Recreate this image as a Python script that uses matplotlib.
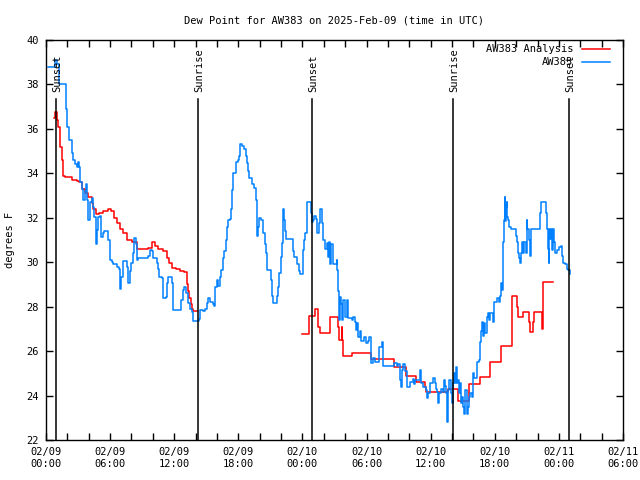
import matplotlib
matplotlib.use("Agg")
import matplotlib.pyplot as plt
import numpy as np

# hours since 2025-02-09 00:00 UTC
blue_h = [0.2, 0.6, 0.85, 1.0, 1.24, 1.8, 1.87, 2.0, 2.18, 2.4, 2.56, 2.71, 2.93, 3.0, 3.1,
          3.18, 3.34, 3.5, 3.65, 3.74, 3.8, 3.96, 4.1, 4.27, 4.43, 4.52, 4.68, 4.8, 4.9, 5.05,
          5.15, 5.3, 5.43, 5.83, 6.0, 6.15, 6.24, 6.67, 6.86, 6.93, 7.0, 7.17, 7.6, 7.7, 7.86,
          7.95, 8.1, 8.27, 8.39, 8.48, 8.64, 9.57, 9.73, 9.9, 9.98, 10.36, 10.5, 10.6, 10.83,
          10.98, 11.23, 11.35, 11.45, 11.75, 11.91, 12.63, 12.79, 12.94, 13.1, 13.32, 13.48,
          13.64, 13.79, 14.32, 14.41, 14.66, 14.88, 15.04, 15.2, 15.35, 15.6, 15.75, 15.85,
          15.97, 16.13, 16.29, 16.38, 16.54, 16.66, 16.85, 16.97, 17.06, 17.22, 17.31, 17.41,
          17.53, 17.78, 18.0, 18.09, 18.16, 18.32, 18.53, 18.72, 18.84, 18.93, 19.03, 19.25,
          19.47, 19.65, 19.72, 19.78, 19.84, 19.96, 20.12, 20.34, 20.5, 20.59, 20.71, 21.06,
          21.15, 21.22, 21.59, 21.74, 21.83, 21.97, 22.06, 22.15, 22.21, 22.28, 22.37, 22.46,
          23.09, 23.21, 23.52, 23.65, 23.77, 24.08, 24.17, 24.27, 24.4, 24.45, 24.77, 24.87,
          25.0, 25.11, 25.27, 25.39, 25.55, 25.67, 25.8, 25.95, 26.11, 26.27, 26.36, 26.49,
          26.58, 26.67, 26.83, 27.2, 27.26, 27.36, 27.45, 27.52, 27.61, 27.7, 27.83, 27.98,
          28.14, 28.23, 28.6, 28.75, 28.92, 29.01, 29.12, 29.23, 29.39, 29.48, 29.8, 29.95,
          30.15, 30.26, 30.39, 30.57, 30.79, 31.16, 31.2, 31.42, 31.51, 31.57, 32.6, 32.82,
          32.95, 33.13, 33.22, 33.29, 33.44, 33.6, 33.76, 34.07, 34.32, 34.4, 34.55, 34.99,
          35.06, 35.31, 35.56, 35.62, 35.77, 35.94, 36.25, 36.41, 36.5, 36.57, 36.72, 36.81,
          36.94, 37.13, 37.25, 37.34, 37.44, 37.5, 37.56, 37.65, 37.75, 37.88, 37.97, 38.06,
          38.18, 38.28, 38.37, 38.45, 38.53, 38.62, 38.72, 38.85, 38.95, 39.05, 39.15, 39.24,
          39.36, 39.45, 39.55, 39.68, 39.85, 39.93, 40.02, 40.3, 40.49, 40.62, 40.71, 40.8,
          40.93, 41.02, 41.11, 41.24, 41.33, 41.43, 41.55, 41.8, 41.9, 42.18, 42.37, 42.49,
          42.55, 42.68, 42.74, 42.8, 42.86, 42.93, 42.99, 43.05, 43.11, 43.17, 43.26, 43.36,
          43.49, 43.98, 44.05, 44.14, 44.24, 44.36, 44.46, 44.55, 44.67, 44.77, 44.92, 44.99,
          45.05, 45.23, 45.29, 45.39, 46.21, 46.33, 46.8, 46.92, 47.02, 47.05, 47.1, 47.17,
          47.26, 47.36, 47.48, 47.54, 47.64, 47.79, 48.04, 48.17, 48.26, 48.36, 48.57, 48.73,
          48.88, 49.04]
blue_v = [38.8, 38.8, 39.1, 38.9, 38.0, 38.0, 36.9, 36.1, 35.5, 34.9, 34.6, 34.4, 34.3, 34.5, 34.3,
          33.6, 33.3, 32.8, 33.2, 33.5, 32.8, 31.9, 32.7, 32.9, 32.5, 32.05, 30.8, 31.45, 32.05, 32.1,
          31.15, 31.3, 31.4, 31.0, 30.1, 30.0, 29.9, 29.8, 29.7, 28.8, 29.35, 30.05, 29.8, 29.05, 29.6,
          29.95, 30.4, 31.1, 30.8, 30.1, 30.2, 30.3, 30.55, 30.5, 30.2, 29.95, 29.7, 29.35, 29.3,
          28.4, 28.45, 29.05, 29.35, 29.05, 27.85, 28.3, 28.75, 28.9, 28.6, 28.15, 27.9,
          27.75, 27.35, 27.45, 27.85, 27.8, 27.9, 28.15, 28.4, 28.2, 28.1, 28.05, 28.9,
          29.2, 28.95, 29.35, 29.65, 30.2, 30.5, 31.0, 31.6, 31.9, 31.95, 32.4, 33.25,
          34.0, 34.5, 34.6, 34.8, 35.3, 35.25, 35.1, 34.8, 34.45, 34.1, 33.8, 33.5,
          33.35, 32.8, 31.75, 31.2, 31.6, 32.0, 31.9, 31.3, 30.8, 30.4, 29.65, 29.2,
          28.5, 28.15, 28.5, 28.9, 29.5, 30.25, 30.85, 31.9, 32.4, 31.9, 31.4, 31.05,
          30.5, 30.25, 29.9, 29.6, 29.45, 30.55, 31.0, 31.3, 31.5, 32.7, 32.2, 31.8,
          31.9, 32.1, 31.95, 31.3, 31.75, 32.4, 31.75, 31.0, 30.6, 30.85, 30.25, 30.9,
          29.9, 30.8, 29.9, 30.1, 29.65, 28.7, 27.4, 28.45, 28.1, 27.4, 28.3, 27.55,
          28.3, 27.5, 27.4, 27.55, 27.3, 26.95, 27.25, 26.65, 26.9, 26.45, 26.65, 26.35,
          26.45, 26.65, 25.45, 25.7, 25.5, 25.7, 26.2, 26.4, 26.05, 25.35, 25.45, 25.35,
          25.4, 24.7, 24.4, 25.15, 25.4, 25.1, 24.4, 24.6, 24.75, 24.5, 24.7, 25.15,
          24.55, 24.4, 24.25, 23.9, 24.1, 24.55, 24.8, 24.55, 24.3, 24.15, 23.65, 24.1,
          24.3, 24.15, 24.7, 24.45, 24.1, 23.35, 22.8, 24.25, 24.7, 24.1, 23.65, 24.55,
          25.0, 24.55, 25.3, 24.55, 24.7, 24.1, 24.55, 23.65, 23.95, 23.5, 23.15, 24.25,
          23.15, 23.5, 23.95, 24.1, 23.95, 25.0, 24.8, 25.5, 25.6, 26.4, 26.9, 27.3,
          26.7, 27.25, 26.8, 27.55, 27.7, 27.4, 27.7, 27.3, 28.2, 28.4, 28.2, 28.5,
          29.05, 28.75, 29.25, 30.9, 31.9, 32.95, 31.85, 32.5, 32.7, 32.05, 31.9, 31.6,
          31.5, 31.2, 30.9, 30.4, 30.2, 29.95, 30.4, 30.9, 30.4, 30.9, 30.4, 31.9,
          31.5, 31.0, 30.3, 31.5, 32.2, 32.7, 32.2, 31.5, 30.6, 29.95, 31.5, 31.05,
          31.5, 30.55, 31.5, 30.9, 30.4, 30.55, 30.7, 30.75, 30.3, 29.95, 29.9, 29.7,
          29.65, 29.45]

red_h = [0.75, 0.88, 1.0, 1.15, 1.31, 1.47, 1.62, 1.78, 2.4, 2.87, 3.12, 3.34, 3.65, 3.96,
         4.27, 4.43, 4.68, 5.0, 5.37, 5.83, 6.05, 6.36, 6.67, 6.93, 7.24, 7.61, 8.02, 8.48,
         9.57, 9.89, 10.2, 10.5, 10.98, 11.3, 11.54, 11.76, 12.17, 12.54, 12.94, 13.16, 13.32,
         13.41, 13.54, 13.64, 13.73, 14.04, 14.1,
         23.99, 24.6, 24.64, 25.17, 25.45, 25.64, 26.58, 27.33, 27.42, 27.67, 27.72, 27.77,
         28.6, 30.39, 32.55, 33.69, 34.63, 35.47, 35.56, 37.65, 38.6, 39.55, 40.62, 41.55,
         42.61, 43.58, 43.65, 44.05, 44.14, 44.61, 45.2, 45.29, 45.6, 45.67, 46.45, 46.55, 47.48]
red_v = [36.5, 36.75, 36.4, 36.1, 35.2, 34.6, 33.9, 33.85, 33.7, 33.65, 33.6, 33.3, 33.1, 32.95,
         32.65, 32.4, 32.15, 32.2, 32.3, 32.4, 32.3, 32.0, 31.75, 31.5, 31.3, 31.0, 30.9, 30.6,
         30.65, 30.9, 30.75, 30.6, 30.5, 30.2, 29.95, 29.75, 29.7, 29.6, 29.55, 29.0, 28.7,
         28.4, 28.1, 27.9, 27.8, 27.8, np.nan,
         26.75, 27.2, 27.6, 27.9, 27.1, 26.8, 27.55, 27.1, 26.5, 27.1, 26.5, 25.8,
         25.9, 25.63, 25.3, 24.9, 24.6, 24.4, 24.15, 24.3, 23.75, 24.5, 24.85, 25.5,
         26.25, 27.3, 28.5, 28.0, 27.55, 27.75, 27.3, 26.85, 27.3, 27.75, 27.0, 29.1, 29.1]

events = ["Sunset", "Sunrise", "Sunset", "Sunrise", "Sunset"]
event_h = [0.94, 14.22, 24.9, 38.09, 48.95]

tick_h = [0, 6, 12, 18, 24, 30, 36, 42, 48, 54]
tick_labels = ["02/09\n00:00", "02/09\n06:00", "02/09\n12:00", "02/09\n18:00",
               "02/10\n00:00", "02/10\n06:00", "02/10\n12:00", "02/10\n18:00",
               "02/11\n00:00", "02/11\n06:00"]

plt.rcParams['font.family'] = 'DejaVu Sans Mono'
plt.rcParams['font.size'] = 7

fig = plt.figure(figsize=(6.4, 4.8), dpi=100)
ax = fig.add_axes([46/640, 40/480, 577/640, 400/480])

ax.plot(red_h, red_v, color='#ff0000', lw=1.1, drawstyle='steps-post', label='AW383 Analysis')
ax.plot(blue_h, blue_v, color='#0080ff', lw=1.1, drawstyle='steps-post', label='AW383')

for name, h in zip(events, event_h):
    ax.plot([h, h], [22, 37.35], color='black', lw=1.1)
    ax.text(h + 0.15, 37.65, name, rotation=90, ha='center', va='bottom', fontsize=7.5)

ax.set_xlim(0, 54)
ax.set_ylim(22, 40)
ax.set_xticks(tick_h)
ax.set_xticklabels(tick_labels)
ax.set_xticks(np.arange(0, 55, 2), minor=True)
ax.set_yticks(np.arange(22, 41, 2))
ax.tick_params(which='both', direction='in', top=True, right=True, length=5, width=1,
               labelsize=7.5, pad=5)
for s in ax.spines.values():
    s.set_linewidth(1)

ax.set_title("Dew Point for AW383 on 2025-Feb-09 (time in UTC)", fontsize=7.5, pad=12)
ax.set_ylabel("degrees F", fontsize=7.5, labelpad=8)

ax.legend(loc='upper right', bbox_to_anchor=(568/577, 1.0), frameon=False, markerfirst=False,
          handlelength=2.7, fontsize=7.5, borderaxespad=0, handletextpad=0.8, labelspacing=0.3)

fig.savefig("out.png", dpi=100)
